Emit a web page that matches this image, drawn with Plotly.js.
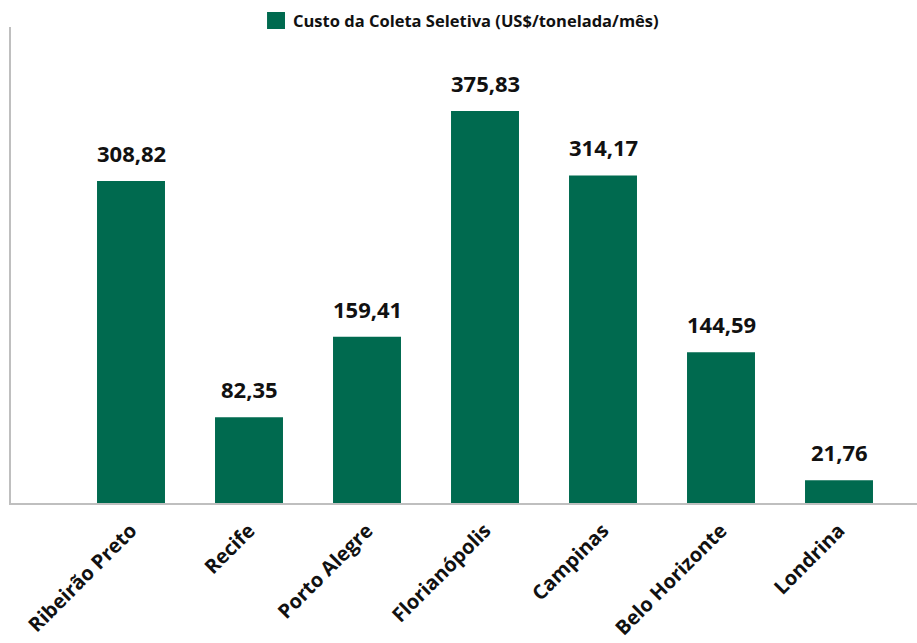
<!DOCTYPE html>
<html>
<head>
<meta charset="utf-8">
<script src="https://cdn.plot.ly/plotly-3.0.1.min.js"></script>
<style>html,body{margin:0;padding:0;background:#fff;}#chart{width:917px;height:643px;}</style>
</head>
<body>
<div id="chart"></div>
<script>
const categories = ["Ribeirão Preto", "Recife", "Porto Alegre", "Florianópolis", "Campinas", "Belo Horizonte", "Londrina"];
const values = [308.82, 82.35, 159.41, 375.83, 314.17, 144.59, 21.76];
const valueLabels = ["308,82", "82,35", "159,41", "375,83", "314,17", "144,59", "21,76"];
const seriesName = "Custo da Coleta Seletiva (US$/tonelada/mês)";

const FONT = "Open Sans, Noto Sans, sans-serif";
const GREEN = "#006a4f";

const trace = {
  type: "bar",
  x: categories,
  y: values,
  name: seriesName,
  width: 0.576,
  marker: {color: GREEN},
  hoverinfo: "none",
  showlegend: false
};

const annotations = categories.map((c, i) => ({
  x: c, y: values[i], xref: "x", yref: "y",
  text: valueLabels[i], showarrow: false,
  yanchor: "bottom", yshift: 11,
  font: {family: FONT, size: 22, color: "#111111", weight: 700}
}));

// legend (drawn manually so the swatch matches the reference size)
annotations.push({
  x: 0.3085, y: 1.0147, xref: "paper", yref: "paper",
  xanchor: "left", yanchor: "middle", showarrow: false,
  text: seriesName,
  font: {family: FONT, size: 16.5, color: "#111111", weight: 700}
});

const layout = {
  width: 917, height: 643,
  margin: {l: 11, r: 0, t: 27, b: 140, pad: 0, autoexpand: false},
  paper_bgcolor: "#ffffff", plot_bgcolor: "#ffffff",
  showlegend: false,
  xaxis: {
    type: "category",
    range: [-1.017, 6.661],
    showline: true, linecolor: "#bfbfbf", linewidth: 2,
    ticks: "", tickangle: -45, automargin: false, ticklabelstandoff: 6,
    tickfont: {family: FONT, size: 20, color: "#111111", weight: 700},
    showgrid: false, zeroline: false, fixedrange: true
  },
  yaxis: {
    range: [0, 456.5],
    showline: true, linecolor: "#bfbfbf", linewidth: 2,
    showticklabels: false, ticks: "", showgrid: false, zeroline: false,
    automargin: false, fixedrange: true
  },
  shapes: [{
    type: "rect", xref: "paper", yref: "paper",
    x0: 0.2826, x1: 0.3024, y0: 0.9958, y1: 1.0315,
    fillcolor: GREEN, line: {width: 0}
  }],
  annotations: annotations
};

Plotly.newPlot("chart", [trace], layout, {displayModeBar: false, staticPlot: true});
</script>
</body>
</html>
